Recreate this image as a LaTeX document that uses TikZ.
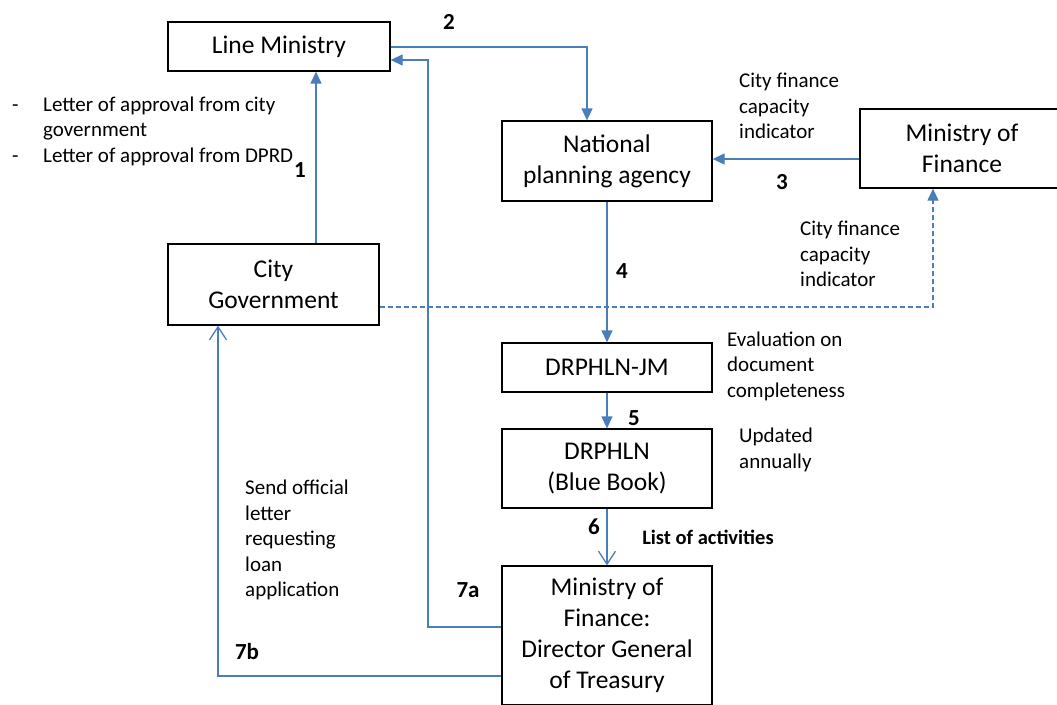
\documentclass[tikz,border=0pt]{standalone}
\usepackage{fontspec}
\setmainfont{Carlito}
\usetikzlibrary{arrows.meta}
\definecolor{lineblue}{RGB}{74,126,187}
\newcommand\lblf{\fontsize{21}{25.5}\selectfont}
\newcommand\boxf{\fontsize{25.5}{31}\selectfont}
\newcommand\numf{\fontsize{23}{25}\selectfont\bfseries}
\tikzset{
  boxnode/.style={draw=black, line width=1.3pt, rectangle, inner sep=0pt, align=center, font=\boxf},
  lbl/.style={inner sep=0pt, align=left, font=\lblf},
  numlbl/.style={inner sep=0pt, font=\numf},
  conn/.style={draw=lineblue, line width=1.3pt},
  arr/.style={conn, -{Triangle[length=12pt,width=11pt]}},
  openarr/.style={conn, -{Straight Barb[length=13pt,width=17pt]}},
  dasharr/.style={arr, dash pattern=on 5pt off 3pt}
}
\begin{document}
\begin{tikzpicture}[x=1pt,y=-1pt]
\useasboundingbox (0,0) rectangle (1057,704);
\clip (0,0) rectangle (1057,704);
\fill[white] (0,0) rectangle (1057,704);

% boxes
\node[boxnode, minimum width=222pt, minimum height=49pt] (LM) at (279,46.5) {Line Ministry};
\node[boxnode, minimum width=210pt, minimum height=80pt] (NPA) at (607,161) {National\\planning agency};
\node[boxnode, minimum width=204pt, minimum height=79pt] (MoF) at (962,148.5) {Ministry of\\Finance};
\node[boxnode, minimum width=211pt, minimum height=81pt] (CG) at (273.5,284.5) {City\\Government};
\node[boxnode, minimum width=210pt, minimum height=49pt] (DJM) at (607,367.5) {DRPHLN-JM};
\node[boxnode, minimum width=210pt, minimum height=79pt] (DRP) at (607,468.5) {DRPHLN\\(Blue Book)};
\node[boxnode, minimum width=210pt, minimum height=139pt] (DG) at (607,635.5) {Ministry of\\Finance:\\Director General\\of Treasury};

% helper coordinates
\coordinate (x316) at (316,0);
\coordinate (x587) at (587,0);
\coordinate (x428) at (428,0);
\coordinate (x218) at (218,0);
\coordinate (x933) at (933,0);
\coordinate (y47) at (0,47);
\coordinate (y60) at (0,60);
\coordinate (y159) at (0,159);
\coordinate (y307) at (0,307);
\coordinate (y627) at (0,627);
\coordinate (y676) at (0,676);

% connectors
\draw[arr] (CG.north -| x316) -- (LM.south -| x316);
\draw[arr] (LM.east |- y47) -| (NPA.north -| x587);
\draw[arr] (MoF.west |- y159) -- (NPA.east |- y159);
\draw[arr] (NPA.south) -- (DJM.north);
\draw[arr] (DJM.south) -- (DRP.north);
\draw[openarr] (DRP.south) -- (DG.north);
\draw[arr] (DG.west |- y627) -| (x428 |- y60) -- (LM.east |- y60);
\draw[openarr] (DG.west |- y676) -| (CG.south -| x218);
\draw[dasharr] (CG.east |- y307) -| (MoF.south -| x933);

% labels
\node[lbl, anchor=west] (bul) at (12,131) {\makebox[31pt][l]{-}Letter of approval from city\\\hspace*{31pt}government\\\makebox[31pt][l]{-}Letter of approval from DPRD};
\node[lbl, anchor=west] (cf1) at (739,106) {City finance\\capacity\\indicator};
\node[lbl, anchor=west] (cf2) at (800,254) {City finance\\capacity\\indicator};
\node[lbl, anchor=west] (ev) at (727,366) {Evaluation on\\document\\completeness};
\node[lbl, anchor=west] (up) at (739,450) {Updated\\annually};
\node[lbl, anchor=west] (send) at (245,540) {Send official\\letter\\requesting\\loan\\application};
\node[inner sep=0pt, font=\fontsize{20.5}{22}\selectfont\bfseries] (loa) at (708,537) {List of activities};

\node[numlbl] (n2) at (449,22) {2};
\node[numlbl] (n1) at (300,170) {1};
\node[numlbl] (n3) at (782,182) {3};
\node[numlbl] (n4) at (622,271) {4};
\node[numlbl] (n5) at (634,418) {5};
\node[numlbl] (n6) at (594,527) {6};
\node[numlbl] (n7a) at (468,590) {7a};
\node[numlbl] (n7b) at (247,652) {7b};
\end{tikzpicture}
\end{document}
